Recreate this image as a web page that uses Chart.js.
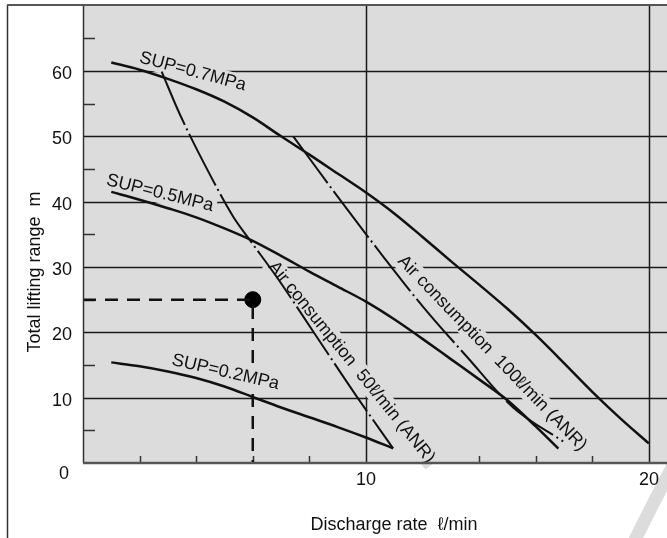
<!DOCTYPE html>
<html>
<head>
<meta charset="utf-8">
<script src="https://cdn.jsdelivr.net/npm/chart.js@4.4.1/dist/chart.umd.min.js"></script>
<style>
  body { margin: 0; background: #fff; }
  canvas { display: block; }
</style>
</head>
<body>
<canvas id="pumpChart" width="667" height="538"></canvas>
<script>
// Curves (x = discharge l/min, y = lifting range m)
const sup07X = [1, 2, 3, 4, 5, 6, 7, 8, 9, 10, 11, 12, 13, 14, 15, 16, 17, 18, 19, 20];
const sup07Y = [61.3, 60.2, 58.8, 57.2, 55.3, 52.9, 50.0, 47.2, 44.3, 41.4, 38.2, 34.6, 30.9, 27.3, 23.6, 19.6, 15.3, 10.9, 6.8, 3.0];

const sup05X = [1, 2, 3, 4, 5, 6, 7, 8, 9, 10, 11, 12, 13, 14, 15, 16, 16.8];
const sup05Y = [41.5, 40.3, 39.0, 37.6, 35.9, 34.0, 31.7, 29.3, 27.0, 24.7, 22.0, 19.0, 15.9, 12.8, 9.6, 5.6, 2.2];

const sup02X = [1, 2, 3, 4, 5, 6, 7, 8, 9, 10, 10.96];
const sup02Y = [15.4, 14.8, 14.0, 13.0, 11.7, 10.1, 8.5, 7.0, 5.5, 3.9, 2.25];

const air50X = [2.78, 3.43, 4.49, 5.31, 5.9, 6.84, 8.2, 9.67, 10.96];
const air50Y = [59.9, 53.3, 44.1, 37.7, 34.1, 28.5, 19.7, 10.2, 2.25];

const air100X = [7.43, 9.08, 10.61, 12.02, 13.56, 15.2, 16.97];
const air100Y = [50.0, 40.3, 31.6, 23.9, 16.3, 8.5, 3.3];

// operating point example
const opX = [6];
const opY = [25];

const xTickLabels = [10, 20];
const yTickLabels = [10, 20, 30, 40, 50, 60];
const xMinorTicks = [2, 4, 6, 8, 12, 14, 16, 18];
const yMinorTicks = [5, 15, 25, 35, 45, 55, 65];

const curveNames = ['SUP=0.7MPa', 'SUP=0.5MPa', 'SUP=0.2MPa',
  'Air consumption  50ℓ/min (ANR)', 'Air consumption  100ℓ/min (ANR)'];

// where the curve names sit (data coords) and their slant
const nameSpots = [
  { x: 3.88, y: 59.9, deg: 15 },
  { x: 2.72, y: 41.3, deg: 14 },
  { x: 5.04, y: 13.9, deg: 13 },
  { x: 9.49, y: 15.4, deg: 51 },
  { x: 14.46, y: 16.8, deg: 46 }
];

const FONT = '"Liberation Sans", Arial, Helvetica, sans-serif';
const PLOT_BG = '#dcdcdc';
const REF_LINE = 5; // index of the dashed guide dataset

function pts(xs, ys) {
  return xs.map((x, i) => ({ x: x, y: ys[i] }));
}

const solid = { borderColor: '#111', borderWidth: 2.5, pointRadius: 0, cubicInterpolationMode: 'monotone', fill: false };
const dashDot = { borderColor: '#111', borderWidth: 2, pointRadius: 0, cubicInterpolationMode: 'monotone', fill: false, borderDash: [58, 4, 2, 4] };

const sheetPlugin = {
  id: 'sheet',
  beforeDraw(chart) {
    const { ctx, chartArea: a } = chart;
    ctx.save();
    ctx.fillStyle = '#fff';
    ctx.fillRect(0, 0, chart.width, chart.height);
    ctx.fillStyle = PLOT_BG;
    ctx.fillRect(a.left, a.top, a.right - a.left, a.bottom - a.top);
    ctx.restore();
  },
  beforeDatasetsDraw(chart) {
    const { ctx, chartArea: a, scales: { x, y } } = chart;
    ctx.save();
    ctx.strokeStyle = '#1a1a1a';
    ctx.lineWidth = 1.5;
    // major grid
    yTickLabels.forEach(v => {
      const py = Math.round(y.getPixelForValue(v)) + 0.5;
      ctx.beginPath(); ctx.moveTo(a.left, py); ctx.lineTo(a.right, py); ctx.stroke();
    });
    xTickLabels.forEach(v => {
      const px = Math.round(x.getPixelForValue(v)) + 0.5;
      ctx.beginPath(); ctx.moveTo(px, a.top); ctx.lineTo(px, a.bottom); ctx.stroke();
    });
    // minor ticks
    ctx.strokeStyle = '#333';
    yMinorTicks.forEach(v => {
      const py = Math.round(y.getPixelForValue(v)) + 0.5;
      ctx.beginPath(); ctx.moveTo(a.left, py); ctx.lineTo(a.left + 12, py); ctx.stroke();
    });
    xMinorTicks.forEach(v => {
      const px = Math.round(x.getPixelForValue(v)) + 0.5;
      ctx.beginPath(); ctx.moveTo(px, a.bottom); ctx.lineTo(px, a.bottom - 7); ctx.stroke();
    });
    ctx.restore();
  },
  // names go over the dashed guide but under the curves
  afterDatasetDraw(chart, args) {
    if (args.index !== REF_LINE) return;
    const { ctx, scales: { x, y } } = chart;
    ctx.save();
    ctx.font = '18px ' + FONT;
    ctx.textAlign = 'center';
    ctx.textBaseline = 'middle';
    curveNames.forEach((name, i) => {
      const s = nameSpots[i];
      const w = ctx.measureText(name).width;
      ctx.save();
      ctx.translate(x.getPixelForValue(s.x), y.getPixelForValue(s.y));
      ctx.rotate(s.deg * Math.PI / 180);
      ctx.fillStyle = PLOT_BG;
      ctx.fillRect(-w / 2 - 3, -10, w + 6, 20);
      ctx.fillStyle = '#111';
      ctx.fillText(name, 0, 0);
      ctx.restore();
    });
    ctx.restore();
  },
  afterDraw(chart) {
    const { ctx, chartArea: a, scales: { x, y } } = chart;
    ctx.save();
    // faint watermark arc in the corner
    ctx.strokeStyle = '#dcdcdc';
    ctx.lineWidth = 13;
    ctx.beginPath();
    ctx.moveTo(630, 550);
    ctx.quadraticCurveTo(652, 505, 676, 460);
    ctx.stroke();

    // axes and frame
    ctx.strokeStyle = '#333';
    ctx.lineWidth = 1.5;
    ctx.beginPath(); ctx.moveTo(a.left + 0.5, a.top); ctx.lineTo(a.left + 0.5, a.bottom); ctx.stroke();
    ctx.beginPath(); ctx.moveTo(7.5, a.top); ctx.lineTo(7.5, chart.height); ctx.stroke();
    ctx.strokeStyle = '#555';
    ctx.lineWidth = 2;
    ctx.beginPath(); ctx.moveTo(7, a.top); ctx.lineTo(chart.width, a.top); ctx.stroke();
    ctx.lineWidth = 2.5;
    ctx.beginPath(); ctx.moveTo(a.left, a.bottom); ctx.lineTo(a.right, a.bottom); ctx.stroke();

    // tick labels
    ctx.fillStyle = '#111';
    ctx.font = '18px ' + FONT;
    ctx.textBaseline = 'middle';
    ctx.textAlign = 'right';
    yTickLabels.forEach(v => ctx.fillText(String(v), 72, y.getPixelForValue(v) + 3));
    ctx.textAlign = 'center';
    ctx.fillText('0', 64, a.bottom + 11);
    xTickLabels.forEach(v => ctx.fillText(String(v), x.getPixelForValue(v), a.bottom + 17));

    // axis titles
    ctx.textBaseline = 'alphabetic';
    ctx.fillText('Discharge rate  ℓ/min', 394, 530);
    ctx.save();
    ctx.translate(40, 272);
    ctx.rotate(-Math.PI / 2);
    ctx.fillText('Total lifting range  m', 0, 0);
    ctx.restore();
    ctx.restore();
  }
};

new Chart(document.getElementById('pumpChart'), {
  type: 'line',
  data: {
    datasets: [
      Object.assign({ data: pts(sup07X, sup07Y) }, solid),
      Object.assign({ data: pts(sup05X, sup05Y) }, solid),
      Object.assign({ data: pts(sup02X, sup02Y) }, solid),
      Object.assign({ data: pts(air50X, air50Y) }, dashDot),
      Object.assign({ data: pts(air100X, air100Y) }, dashDot),
      {
        data: [{ x: 0, y: opY[0] }, { x: opX[0], y: opY[0] }, { x: opX[0], y: 0 }],
        borderColor: '#111', borderWidth: 2.5, borderDash: [13, 9], pointRadius: 0, tension: 0, fill: false
      },
      {
        data: pts(opX, opY),
        showLine: false, pointRadius: 8, pointBackgroundColor: '#000', pointBorderColor: '#000'
      }
    ]
  },
  options: {
    responsive: false,
    animation: false,
    devicePixelRatio: 1,
    layout: { autoPadding: false, padding: { top: 5, right: 0, left: 0, bottom: 0 } },
    plugins: { legend: { display: false }, tooltip: { enabled: false } },
    scales: {
      x: {
        type: 'linear', min: 0, max: 20.64,
        ticks: { display: false }, grid: { display: false }, border: { display: false },
        afterFit: s => { s.height = 75; }
      },
      y: {
        type: 'linear', min: 0, max: 70.1,
        ticks: { display: false }, grid: { display: false }, border: { display: false },
        afterFit: s => { s.width = 83; }
      }
    }
  },
  plugins: [sheetPlugin]
});
</script>
</body>
</html>
